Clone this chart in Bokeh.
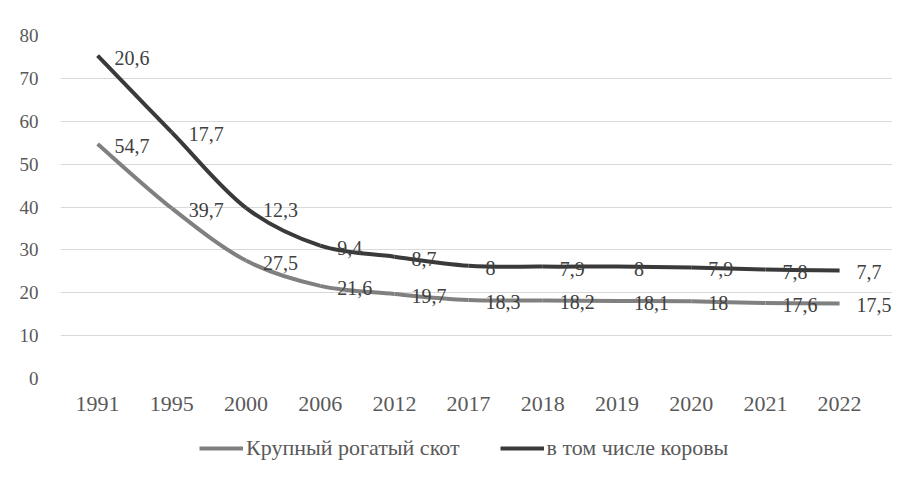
from bokeh.plotting import figure
from bokeh.layouts import column
from bokeh.models import Range1d, FixedTicker, Legend, LegendItem, ColumnDataSource
from bokeh.core.properties import value
from bokeh.embed import file_html
from bokeh.resources import INLINE

years = ["1991", "1995", "2000", "2006", "2012", "2017", "2018", "2019", "2020", "2021", "2022"]
cattle = [54.7, 39.7, 27.5, 21.6, 19.7, 18.3, 18.2, 18.1, 18.0, 17.6, 17.5]
cows = [20.6, 17.7, 12.3, 9.4, 8.7, 8.0, 7.9, 8.0, 7.9, 7.8, 7.7]
y_ticks = [0, 10, 20, 30, 40, 50, 60, 70, 80]
series_names = ["Крупный рогатый скот", "в том числе коровы"]

FONT = "'Liberation Serif', 'Times New Roman', serif"
GRAY = "#808080"
DARK = "#3a3a3a"

xs = list(range(len(years)))
cows_top = [a + b for a, b in zip(cattle, cows)]


def bezier_source(px, py):
    n = len(px)
    d = dict(x0=[], y0=[], x1=[], y1=[], cx0=[], cy0=[], cx1=[], cy1=[])
    for i in range(n - 1):
        xp, yp = (px[i - 1], py[i - 1]) if i > 0 else (px[i], py[i])
        xn, yn = (px[i + 2], py[i + 2]) if i + 2 < n else (px[i + 1], py[i + 1])
        d["x0"].append(px[i]); d["y0"].append(py[i])
        d["x1"].append(px[i + 1]); d["y1"].append(py[i + 1])
        d["cx0"].append(px[i] + (px[i + 1] - xp) / 6.0)
        d["cy0"].append(py[i] + (py[i + 1] - yp) / 6.0)
        d["cx1"].append(px[i + 1] - (xn - px[i]) / 6.0)
        d["cy1"].append(py[i + 1] - (yn - py[i]) / 6.0)
    return ColumnDataSource(d)


def fmt(v):
    return ("%g" % v).replace(".", ",")


src_cattle = bezier_source(xs, cattle)
src_cows = bezier_source(xs, cows_top)
BZ = dict(x0="x0", y0="y0", x1="x1", y1="y1", cx0="cx0", cy0="cy0", cx1="cx1", cy1="cy1")

FRAME_LEFT = 60
CAT_W = 74.2
x_end = -0.5 + (892 - FRAME_LEFT) / CAT_W

p = figure(width=892, height=420, output_backend="svg", toolbar_location=None,
           x_range=Range1d(-0.5, x_end), y_range=Range1d(0, 80),
           min_border_left=FRAME_LEFT, min_border_right=0, min_border_top=35, min_border_bottom=42)
p.outline_line_color = None
p.xgrid.grid_line_color = None
p.ygrid.grid_line_color = "#d9d9d9"
p.ygrid.grid_line_width = 1

p.xaxis.ticker = FixedTicker(ticks=xs)
p.xaxis.major_label_overrides = {i: y for i, y in zip(xs, years)}
p.yaxis.ticker = FixedTicker(ticks=y_ticks)
for ax in (p.xaxis[0], p.yaxis[0]):
    ax.axis_line_color = None
    ax.major_tick_line_color = None
    ax.minor_tick_line_color = None
    ax.major_label_text_font = FONT
    ax.major_label_text_color = "#595959"
p.xaxis.major_label_text_font_size = "22px"
p.xaxis.major_label_standoff = 12
p.yaxis.major_label_text_font_size = "19px"
p.yaxis.major_label_standoff = 16

p.bezier(source=src_cattle, line_color=GRAY, line_width=4, **BZ)
p.bezier(source=src_cows, line_color=DARK, line_width=4, **BZ)

p.text(x=xs, y=cattle, text=[fmt(v) for v in cattle], x_offset=17, y_offset=2,
       text_baseline="middle", text_font=value(FONT), text_font_size="20px", text_color="#404040")
p.text(x=xs, y=cows_top, text=[fmt(v) for v in cows], x_offset=17, y_offset=2,
       text_baseline="middle", text_font=value(FONT), text_font_size="20px", text_color="#404040")

# legend strip below the chart (same series, drawn out of view so only the legend shows)
pl = figure(width=892, height=41, output_backend="svg", toolbar_location=None,
            x_range=Range1d(-0.5, x_end), y_range=Range1d(1000, 1001),
            min_border_left=0, min_border_right=0, min_border_top=0, min_border_bottom=0)
pl.axis.visible = False
pl.grid.grid_line_color = None
pl.outline_line_color = None
l1 = pl.bezier(source=src_cattle, line_color=GRAY, line_width=4, **BZ)
l2 = pl.bezier(source=src_cows, line_color=DARK, line_width=4, **BZ)
legend = Legend(items=[LegendItem(label=series_names[0], renderers=[l1]),
                       LegendItem(label=series_names[1], renderers=[l2])],
                orientation="horizontal", location=(139, 0),
                label_text_font=FONT, label_text_font_size="22px", label_text_color="#595959",
                glyph_width=44, glyph_height=20, label_standoff=3, spacing=40, padding=0, margin=0,
                border_line_color=None, background_fill_alpha=0)
pl.add_layout(legend, "center")

layout = column(p, pl, spacing=0)
open("out.html", "w").write(file_html(layout, INLINE))
